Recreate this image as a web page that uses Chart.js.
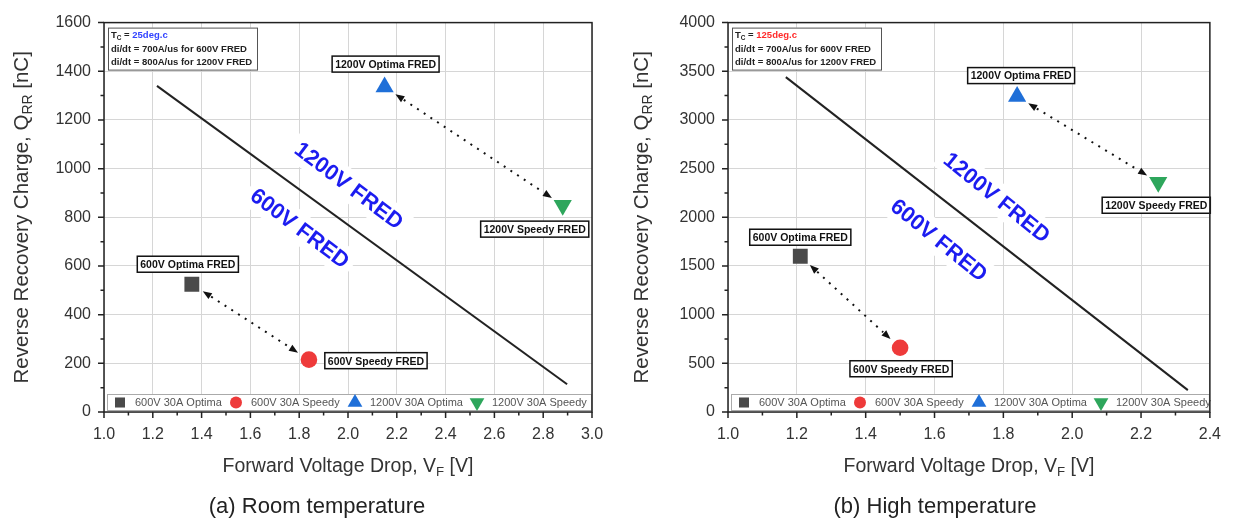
<!DOCTYPE html>
<html>
<head>
<meta charset="utf-8">
<script src="https://cdn.jsdelivr.net/npm/chart.js@4/dist/chart.umd.min.js"></script>
<style>
  body { margin: 0; background: #fff; width: 1234px; height: 521px; overflow: hidden; }
  .wrap { position: absolute; top: 0; width: 617px; height: 521px; }
</style>
</head>
<body>
<div class="wrap" style="left:0"><canvas id="roomChart" width="617" height="521"></canvas></div>
<div class="wrap" style="left:617px"><canvas id="hotChart" width="617" height="521"></canvas></div>
<script>
// series shared by both panels
var seriesNames = ['600V 30A Optima', '600V 30A Speedy', '1200V 30A Optima', '1200V 30A Speedy'];
var pointNames = ['600V Optima FRED', '600V Speedy FRED', '1200V Optima FRED', '1200V Speedy FRED'];

// (a) room temperature
var roomVf = [1.36, 1.84, 2.15, 2.88];
var roomQrr = [525, 215, 1335, 850];
var roomLineVf = [1.217, 2.898];
var roomLineQrr = [1340, 114];
var roomXTicks = [1.0, 1.2, 1.4, 1.6, 1.8, 2.0, 2.2, 2.4, 2.6, 2.8, 3.0];
var roomYTicks = [0, 200, 400, 600, 800, 1000, 1200, 1400, 1600];

// (b) high temperature
var hotVf = [1.21, 1.50, 1.84, 2.25];
var hotQrr = [1600, 660, 3240, 2360];
var hotLineVf = [1.168, 2.336];
var hotLineQrr = [3440, 225];
var hotXTicks = [1.0, 1.2, 1.4, 1.6, 1.8, 2.0, 2.2, 2.4];
var hotYTicks = [0, 500, 1000, 1500, 2000, 2500, 3000, 3500, 4000];

var FONT = 'Arial, "Liberation Sans", sans-serif';
var colors = ['#4a4a4a', '#ee3a3a', '#1f6fd8', '#2ea65c'];
var shapes = ['rect', 'circle', 'triangle', 'triangle'];
var rotations = [0, 0, 0, 180];
var radii = [10.5, 8.3, 10.5, 10.5];

Chart.defaults.font.family = FONT;

function drawRich(ctx, parts, x, cy, size, color, weight, align) {
  var total = 0;
  parts.forEach(function (p) {
    ctx.font = (weight || '') + ' ' + (p.sub ? size * 0.68 : size) + 'px ' + FONT;
    p.w = ctx.measureText(p.t).width;
    total += p.w;
  });
  if (align !== 'left') x -= total / 2;
  ctx.textAlign = 'left';
  ctx.textBaseline = 'middle';
  parts.forEach(function (p) {
    ctx.font = (weight || '') + ' ' + (p.sub ? size * 0.68 : size) + 'px ' + FONT;
    ctx.fillStyle = p.color || color;
    ctx.fillText(p.t, x, cy + (p.sub ? size * 0.3 : 0));
    x += p.w;
  });
}

function marker(ctx, shape, x, y, r, rot, color) {
  ctx.fillStyle = color;
  ctx.beginPath();
  if (shape == 'rect') {
    var s = r * Math.SQRT1_2;
    ctx.rect(x - s, y - s, 2 * s, 2 * s);
  } else if (shape == 'circle') {
    ctx.arc(x, y, r, 0, Math.PI * 2);
  } else {
    var a = rot * Math.PI / 180;
    for (var k = 0; k < 3; k++) {
      var ang = a + k * 2 * Math.PI / 3;
      ctx.lineTo(x + Math.sin(ang) * r, y - Math.cos(ang) * r);
    }
    ctx.closePath();
  }
  ctx.fill();
}

function arrowHead(ctx, x, y, ux, uy) {
  // tip at x,y pointing along ux,uy
  ctx.beginPath();
  ctx.moveTo(x, y);
  ctx.lineTo(x - ux * 9 - uy * 3.5, y - uy * 9 + ux * 3.5);
  ctx.lineTo(x - ux * 9 + uy * 3.5, y - uy * 9 - ux * 3.5);
  ctx.closePath();
  ctx.fill();
}

function makeDecor(L) {
  return {
    id: 'decor',
    beforeDatasetsDraw: function (chart) {
      var ctx = chart.ctx, xs = chart.scales.x, ys = chart.scales.y;
      L.bigText.forEach(function (b) {
        ctx.save();
        ctx.translate(xs.getPixelForValue(b.x), ys.getPixelForValue(b.y));
        ctx.rotate(L.angle * Math.PI / 180);
        ctx.font = 'bold 22px ' + FONT;
        var w = ctx.measureText(b.text).width;
        ctx.fillStyle = '#fff';
        ctx.fillRect(-w / 2 - 6, -15, w + 12, 30);
        ctx.fillStyle = '#1c1cf0';
        ctx.textAlign = 'center';
        ctx.textBaseline = 'middle';
        ctx.fillText(b.text, 0, 1);
        ctx.restore();
      });
    },
    afterDatasetsDraw: function (chart) {
      var ctx = chart.ctx;
      var pts = [0, 1, 2, 3].map(function (i) { return chart.getDatasetMeta(i).data[0]; });
      ctx.save();
      // dotted double arrows
      [[0, 1], [2, 3]].forEach(function (pr) {
        var a = pts[pr[0]], b = pts[pr[1]];
        var dx = b.x - a.x, dy = b.y - a.y, len = Math.sqrt(dx * dx + dy * dy);
        var ux = dx / len, uy = dy / len, gap = 13;
        var sx = a.x + ux * gap, sy = a.y + uy * gap, ex = b.x - ux * gap, ey = b.y - uy * gap;
        ctx.strokeStyle = '#111';
        ctx.lineWidth = 2;
        ctx.setLineDash([2, 6]);
        ctx.beginPath();
        ctx.moveTo(sx + ux * 10, sy + uy * 10);
        ctx.lineTo(ex - ux * 10, ey - uy * 10);
        ctx.stroke();
        ctx.setLineDash([]);
        ctx.fillStyle = '#111';
        arrowHead(ctx, sx, sy, -ux, -uy);
        arrowHead(ctx, ex, ey, ux, uy);
      });
      // boxed point labels
      ctx.font = 'bold 10.5px ' + FONT;
      pts.forEach(function (p, i) {
        var cx = p.x + L.labelOffsets[i][0], cy = p.y + L.labelOffsets[i][1];
        var w = ctx.measureText(pointNames[i]).width + 6;
        ctx.fillStyle = '#fff';
        ctx.fillRect(cx - w / 2, cy - 8, w, 16);
        ctx.strokeStyle = '#111';
        ctx.lineWidth = 1.5;
        ctx.strokeRect(cx - w / 2, cy - 8, w, 16);
        ctx.fillStyle = '#111';
        ctx.textAlign = 'center';
        ctx.textBaseline = 'middle';
        ctx.fillText(pointNames[i], cx, cy + 1);
      });
      ctx.restore();
    },
    afterDraw: function (chart) {
      var ctx = chart.ctx, a = chart.chartArea, xs = chart.scales.x, ys = chart.scales.y;
      ctx.save();
      // info box
      ctx.fillStyle = '#fff';
      ctx.fillRect(a.left + 4, a.top + 5, 149, 42);
      ctx.strokeStyle = '#555';
      ctx.lineWidth = 1;
      ctx.strokeRect(a.left + 4.5, a.top + 5.5, 149, 42);
      drawRich(ctx, [{ t: 'T' }, { t: 'C', sub: true }, { t: ' = ' }, { t: L.temp, color: L.tempColor }],
        a.left + 7, a.top + 13, 9.5, '#222', 'bold', 'left');
      drawRich(ctx, [{ t: 'di/dt = 700A/us for 600V FRED' }], a.left + 7, a.top + 27, 9.5, '#222', 'bold', 'left');
      drawRich(ctx, [{ t: 'di/dt = 800A/us for 1200V FRED' }], a.left + 7, a.top + 40, 9.5, '#222', 'bold', 'left');
      // legend
      ctx.fillStyle = '#fff';
      ctx.fillRect(a.left + 3, a.bottom - 18, a.right - a.left - 4, 16);
      ctx.strokeStyle = '#aaa';
      ctx.strokeRect(a.left + 3.5, a.bottom - 17.5, a.right - a.left - 4, 16);
      var offs = [16, 132, 251, 373], lr = [7.1, 6, 8.5, 8.5];
      seriesNames.forEach(function (n, i) {
        marker(ctx, shapes[i], a.left + offs[i], a.bottom - 9.5, lr[i], rotations[i], colors[i]);
        ctx.fillStyle = '#555';
        ctx.font = '11px ' + FONT;
        ctx.textAlign = 'left';
        ctx.textBaseline = 'middle';
        ctx.fillText(n, a.left + offs[i] + 15, a.bottom - 9);
      });
      // frame and ticks
      ctx.strokeStyle = '#222';
      ctx.lineWidth = 1.5;
      ctx.strokeRect(a.left, a.top, a.right - a.left, a.bottom - a.top);
      ctx.beginPath();
      L.xTicks.forEach(function (v, i) {
        var px = xs.getPixelForValue(v);
        ctx.moveTo(px, a.bottom); ctx.lineTo(px, a.bottom + 6);
        if (i < L.xTicks.length - 1) {
          var m = xs.getPixelForValue((v + L.xTicks[i + 1]) / 2);
          ctx.moveTo(m, a.bottom); ctx.lineTo(m, a.bottom + 3.5);
        }
      });
      L.yTicks.forEach(function (v, i) {
        var py = ys.getPixelForValue(v);
        ctx.moveTo(a.left, py); ctx.lineTo(a.left - 6, py);
        if (i < L.yTicks.length - 1) {
          var m = ys.getPixelForValue((v + L.yTicks[i + 1]) / 2);
          ctx.moveTo(a.left, m); ctx.lineTo(a.left - 3.5, m);
        }
      });
      ctx.stroke();
      // axis titles and caption
      drawRich(ctx, [{ t: 'Forward Voltage Drop, V' }, { t: 'F', sub: true }, { t: ' [V]' }],
        (a.left + a.right) / 2, 467, 19.5, '#333');
      ctx.save();
      ctx.translate(L.yTitleX, (a.top + a.bottom) / 2);
      ctx.rotate(-Math.PI / 2);
      drawRich(ctx, [{ t: 'Reverse Recovery Charge, Q' }, { t: 'RR', sub: true }, { t: ' [nC]' }], 0, 0, 20.5, '#333');
      ctx.restore();
      drawRich(ctx, [{ t: L.caption }], L.captionX, 507, 22, '#222');
      ctx.restore();
    }
  };
}

function makeChart(id, vf, qrr, lineVf, lineQrr, L) {
  var datasets = seriesNames.map(function (n, i) {
    return {
      label: n,
      data: [{ x: vf[i], y: qrr[i] }],
      pointStyle: shapes[i],
      pointRotation: rotations[i],
      pointRadius: radii[i],
      pointBackgroundColor: colors[i],
      pointBorderWidth: 0,
      showLine: false
    };
  });
  datasets.push({
    label: 'boundary',
    data: lineVf.map(function (v, i) { return { x: v, y: lineQrr[i] }; }),
    showLine: true,
    borderColor: '#222',
    borderWidth: 2,
    pointRadius: 0
  });
  return new Chart(document.getElementById(id), {
    type: 'scatter',
    data: { datasets: datasets },
    options: {
      responsive: false,
      animation: false,
      devicePixelRatio: 1,
      layout: { padding: { top: 18, right: L.padRight, left: 0, bottom: 0 } },
      plugins: { legend: { display: false }, tooltip: { enabled: false } },
      scales: {
        x: {
          type: 'linear',
          min: L.xTicks[0],
          max: L.xTicks[L.xTicks.length - 1],
          afterBuildTicks: function (s) { s.ticks = L.xTicks.map(function (v) { return { value: v }; }); },
          afterFit: function (s) { s.height = 109; },
          ticks: { font: { size: 16 }, color: '#333', padding: 13, maxRotation: 0, autoSkip: false,
                   callback: function (v) { return Number(v).toFixed(1); } },
          grid: { color: '#d6d6d6', lineWidth: 1, drawTicks: false },
          border: { display: false }
        },
        y: {
          type: 'linear',
          min: L.yTicks[0],
          max: L.yTicks[L.yTicks.length - 1],
          afterBuildTicks: function (s) { s.ticks = L.yTicks.map(function (v) { return { value: v }; }); },
          afterFit: function (s) { s.width = L.axisLeft; },
          ticks: { font: { size: 16 }, color: '#333', padding: 13, autoSkip: false,
                   callback: function (v) { return String(v); } },
          grid: { color: '#d6d6d6', lineWidth: 1, drawTicks: false },
          border: { display: false }
        }
      }
    },
    plugins: [makeDecor(L)]
  });
}

makeChart('roomChart', roomVf, roomQrr, roomLineVf, roomLineQrr, {
  xTicks: roomXTicks, yTicks: roomYTicks,
  axisLeft: 104, padRight: 25,
  temp: '25deg.c', tempColor: '#3344ff',
  bigText: [{ text: '1200V FRED', x: 2.004, y: 930 }, { text: '600V FRED', x: 1.803, y: 755 }],
  angle: 37,
  labelOffsets: [[-4, -20], [67, 1], [1, -23], [-28, 24]],
  yTitleX: 22, captionX: 317,
  caption: '(a) Room temperature'
});

makeChart('hotChart', hotVf, hotQrr, hotLineVf, hotLineQrr, {
  xTicks: hotXTicks, yTicks: hotYTicks,
  axisLeft: 111, padRight: 23,
  temp: '125deg.c', tempColor: '#ff2a2a',
  bigText: [{ text: '1200V FRED', x: 1.781, y: 2203 }, { text: '600V FRED', x: 1.613, y: 1766 }],
  angle: 39,
  labelOffsets: [[0, -19], [1, 21], [4, -21], [-2, 23]],
  yTitleX: 25, captionX: 318,
  caption: '(b) High temperature'
});
</script>
</body>
</html>
